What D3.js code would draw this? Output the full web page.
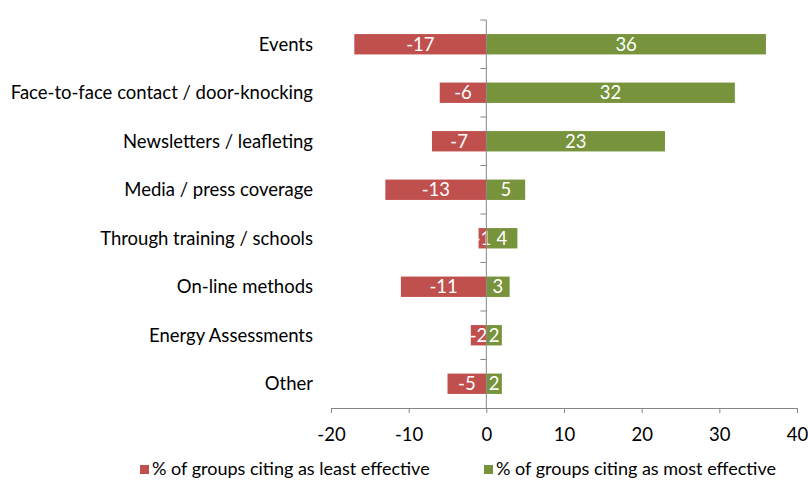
<!DOCTYPE html>
<html>
<head>
<meta charset="utf-8">
<script src="https://cdn.jsdelivr.net/npm/d3@7"></script>
<style>
  body { margin: 0; background: #fff; }
  svg text { font-family: Lato, "Open Sans", sans-serif; }
</style>
</head>
<body>
<div id="chart"></div>
<script>
// Chart data
const categories = [
    'Events',
    'Face-to-face contact / door-knocking',
    'Newsletters / leafleting',
    'Media / press coverage',
    'Through training / schools',
    'On-line methods',
    'Energy Assessments',
    'Other'
];
const leastEffective = [-17, -6, -7, -13, -1, -11, -2, -5];
const mostEffective = [36, 32, 23, 5, 4, 3, 2, 2];
const xTicks = [-20, -10, 0, 10, 20, 30, 40];
const seriesNames = ['% of groups citing as least effective', '% of groups citing as most effective'];

const colors = { least: '#C0504D', most: '#77933C', axis: '#868686', text: '#000' };

const width = 808, height = 482;
const plot = { left: 331, right: 797, top: 20, bottom: 408 };
const fontSize = '18.5px';

const svg = d3.select('#chart')
    .append('svg')
    .attr('width', width)
    .attr('height', height);

const x = d3.scaleLinear()
    .domain([-20, 40])
    .range([plot.left, plot.right]);

const y = d3.scaleBand()
    .domain(categories)
    .range([plot.top, plot.bottom])
    .paddingInner(0.58)
    .paddingOuter(0.29);

const step = y.step();

// Bars
const rows = categories.map((c, i) => ({ cat: c, least: leastEffective[i], most: mostEffective[i] }));

svg.selectAll('.bar-least')
    .data(rows)
    .enter()
    .append('rect')
    .attr('class', 'bar-least')
    .attr('x', d => x(d.least))
    .attr('y', d => y(d.cat))
    .attr('width', d => x(0) - x(d.least))
    .attr('height', y.bandwidth())
    .attr('fill', colors.least);

svg.selectAll('.bar-most')
    .data(rows)
    .enter()
    .append('rect')
    .attr('class', 'bar-most')
    .attr('x', x(0))
    .attr('y', d => y(d.cat))
    .attr('width', d => x(d.most) - x(0))
    .attr('height', y.bandwidth())
    .attr('fill', colors.most);

// Value labels
svg.selectAll('.lbl-least')
    .data(rows)
    .enter()
    .append('text')
    .attr('x', d => (x(d.least) + x(0)) / 2)
    .attr('y', d => y(d.cat) + y.bandwidth() / 2)
    .attr('dy', '0.36em')
    .attr('text-anchor', 'middle')
    .style('font-size', fontSize)
    .style('fill', '#fff')
    .text(d => String(d.least));

svg.selectAll('.lbl-most')
    .data(rows)
    .enter()
    .append('text')
    .attr('x', d => (x(d.most) + x(0)) / 2)
    .attr('y', d => y(d.cat) + y.bandwidth() / 2)
    .attr('dy', '0.36em')
    .attr('text-anchor', 'middle')
    .style('font-size', fontSize)
    .style('fill', '#fff')
    .text(d => String(d.most));

// X axis
const xAxis = svg.append('g')
    .attr('transform', `translate(0,${plot.bottom})`)
    .call(d3.axisBottom(x).tickValues(xTicks).tickSize(5).tickPadding(15).tickFormat(d => String(d)));
xAxis.select('.domain').attr('stroke', colors.axis);
xAxis.selectAll('.tick line').attr('stroke', colors.axis);
xAxis.selectAll('.tick text')
    .style('font-size', fontSize)
    .style('font-family', 'Lato, sans-serif')
    .attr('fill', colors.text);

// Vertical axis at zero with band-boundary ticks
svg.append('line')
    .attr('x1', x(0)).attr('x2', x(0))
    .attr('y1', plot.top).attr('y2', plot.bottom)
    .attr('stroke', colors.axis);

d3.range(categories.length).forEach(i => {
    svg.append('line')
        .attr('x1', x(0) - 6).attr('x2', x(0))
        .attr('y1', plot.top + i * step).attr('y2', plot.top + i * step)
        .attr('stroke', colors.axis);
});

// Category labels
svg.selectAll('.cat')
    .data(categories)
    .enter()
    .append('text')
    .attr('x', 313)
    .attr('y', d => y(d) + y.bandwidth() / 2)
    .attr('dy', '0.36em')
    .attr('text-anchor', 'end')
    .style('font-size', fontSize)
    .style('fill', colors.text)
    .text(d => d);

// Legend
const legend = svg.append('g');
const legendX = [140, 484];
seriesNames.forEach((name, i) => {
    legend.append('rect')
        .attr('x', legendX[i])
        .attr('y', 465)
        .attr('width', 9)
        .attr('height', 9)
        .attr('fill', i === 0 ? colors.least : colors.most);
    legend.append('text')
        .attr('x', legendX[i] + 12)
        .attr('y', 469)
        .attr('dy', '0.36em')
        .style('font-size', '18px')
        .style('fill', colors.text)
        .text(name);
});
</script>
</body>
</html>
